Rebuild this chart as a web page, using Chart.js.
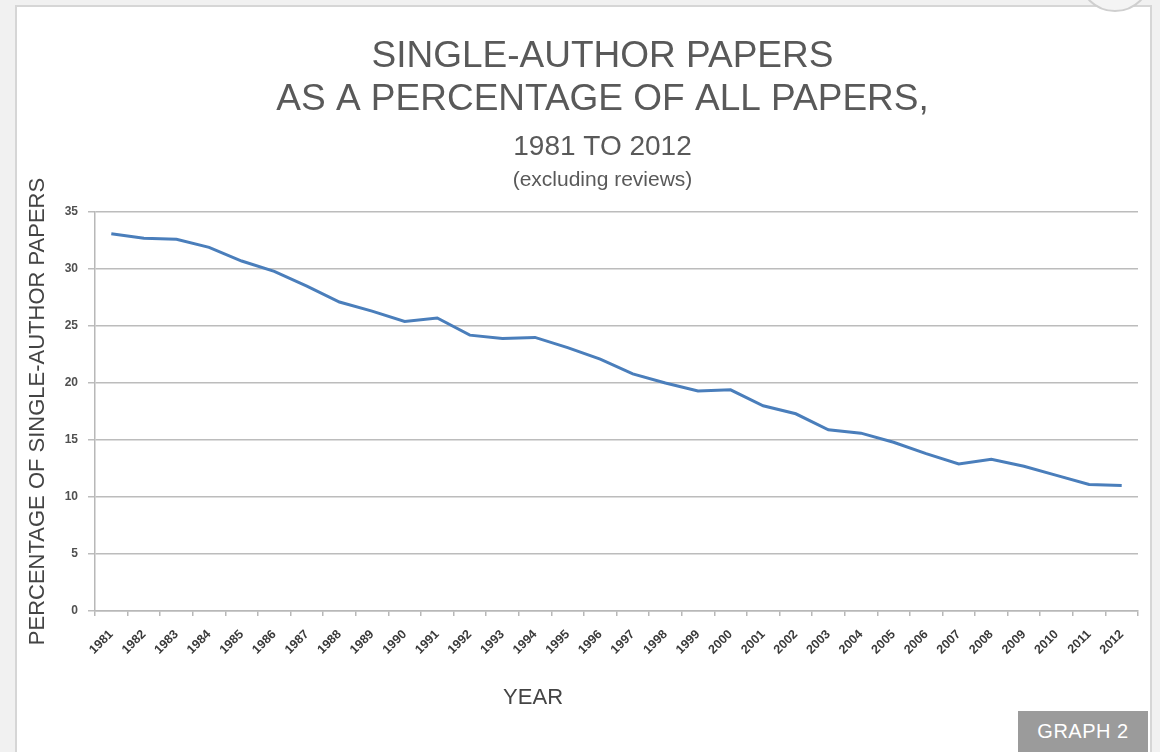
<!DOCTYPE html>
<html>
<head>
<meta charset="utf-8">
<script src="https://cdn.jsdelivr.net/npm/chart.js@4"></script>
<style>
    html, body { margin: 0; padding: 0; }
    body { width: 1160px; height: 752px; background: #f1f1f1; position: relative; overflow: hidden; }
    #panel {
        position: absolute; left: 15px; top: 5px; width: 1133px; height: 760px;
        background: #fff; border: 2px solid #d6d6d6;
    }
    #closeBtn {
        position: absolute; left: 1078px; top: -62px; width: 70px; height: 70px;
        border-radius: 50%; background: #f4f4f4; border: 2px solid #cfcfcf;
    }
    #wrap { position: absolute; left: 18px; top: 8px; width: 1130px; height: 744px; }
    #badge {
        position: absolute; left: 1018px; top: 711px; width: 130px; height: 41px;
        background: #9b9b9b; color: #fff; font-family: "Liberation Sans", Arial, sans-serif;
        font-size: 20px; line-height: 41px; text-align: center; letter-spacing: 0.5px;
    }
</style>
</head>
<body>
<div id="panel"></div>
<div id="closeBtn"></div>
<div id="wrap"><canvas id="grafico"></canvas></div>
<div id="badge">GRAPH 2</div>

<script>
// años (categorias del eje x)
const years = ['1981', '1982', '1983', '1984', '1985', '1986', '1987', '1988', '1989', '1990',
    '1991', '1992', '1993', '1994', '1995', '1996', '1997', '1998', '1999', '2000',
    '2001', '2002', '2003', '2004', '2005', '2006', '2007', '2008', '2009', '2010',
    '2011', '2012'];

// porcentaje de articulos de un solo autor
const singleAuthorPct = [33.1, 32.7, 32.6, 31.9, 30.7, 29.8, 28.5, 27.1, 26.3, 25.4,
    25.7, 24.2, 23.9, 24.0, 23.1, 22.1, 20.8, 20.0, 19.3, 19.4,
    18.0, 17.3, 15.9, 15.6, 14.8, 13.8, 12.9, 13.3, 12.7, 11.9,
    11.1, 11.0];

const yTicks = [0, 5, 10, 15, 20, 25, 30, 35];

const titleLines = ['SINGLE-AUTHOR PAPERS', 'AS A PERCENTAGE OF ALL PAPERS,'];
const subTitle = '1981 TO 2012';
const note = '(excluding reviews)';
const xTitle = 'YEAR';
const yTitle = 'PERCENTAGE OF SINGLE-AUTHOR PAPERS';

const FONT = '"Liberation Sans", Arial, sans-serif';

// textos del encabezado y titulo del eje x
const headerText = {
    id: 'headerText',
    afterDraw(chart) {
        const { ctx, chartArea } = chart;
        const cx = (chartArea.left + chartArea.right) / 2 - 14;
        ctx.save();
        ctx.textAlign = 'center';
        ctx.textBaseline = 'middle';
        ctx.fillStyle = '#595959';
        ctx.font = '37px ' + FONT;
        ctx.fillText(titleLines[0], cx, 49);
        ctx.fillText(titleLines[1], cx, 92);
        ctx.font = '28px ' + FONT;
        ctx.fillText(subTitle, cx, 139);
        ctx.font = '21px ' + FONT;
        ctx.fillText(note, cx, 172);

        ctx.fillStyle = '#444';
        ctx.font = '22px ' + FONT;
        ctx.fillText(xTitle, chartArea.left + 0.42 * (chartArea.right - chartArea.left), 690);
        ctx.restore();
    }
};

const ctx = document.getElementById('grafico').getContext('2d');

new Chart(ctx, {
    type: 'line',
    data: {
        labels: years,
        datasets: [{
            data: singleAuthorPct,
            borderColor: '#4a7ebb',
            borderWidth: 3,
            pointRadius: 0,
            tension: 0,
            fill: false
        }]
    },
    options: {
        responsive: true,
        maintainAspectRatio: false,
        animation: false,
        layout: {
            padding: { top: 204, left: 0, right: 10, bottom: 0 }
        },
        plugins: {
            legend: { display: false },
            tooltip: { enabled: false }
        },
        scales: {
            x: {
                offset: true,
                afterFit: s => { s.height = 141; },
                grid: {
                    offset: true,
                    drawOnChartArea: false,
                    drawTicks: true,
                    tickLength: 5,
                    color: '#b8b8b8',
                    lineWidth: 1.5
                },
                border: { color: '#b8b8b8', width: 1.5 },
                ticks: {
                    autoSkip: false,
                    minRotation: 45,
                    maxRotation: 45,
                    padding: 11,
                    color: '#3a3a3a',
                    font: { family: FONT, size: 12.5, weight: 'bold' }
                }
            },
            y: {
                min: 0,
                max: 35,
                afterFit: s => { s.width = 77; },
                afterBuildTicks: s => { s.ticks = yTicks.map(v => ({ value: v })); },
                grid: {
                    color: '#bcbcbc',
                    lineWidth: 1.5,
                    tickLength: 7
                },
                border: { color: '#b8b8b8', width: 1.5 },
                ticks: {
                    padding: 10,
                    color: '#505050',
                    font: { family: FONT, size: 12, weight: 'bold' }
                },
                title: {
                    display: true,
                    text: yTitle,
                    color: '#444',
                    padding: { top: 7, bottom: 0 },
                    font: { family: FONT, size: 22 }
                }
            }
        }
    },
    plugins: [headerText]
});
</script>
</body>
</html>
